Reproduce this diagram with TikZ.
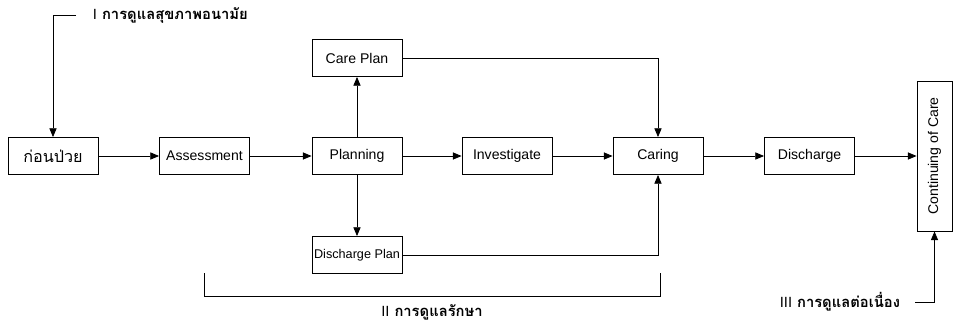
\documentclass[tikz,border=0pt]{standalone}
\usepackage{fontspec}
\setmainfont{Liberation Sans}
\newfontfamily\thaifont[Script=Thai]{Loma}
\newfontfamily\latinfont{Liberation Sans}
\usetikzlibrary{arrows.meta}

\begin{document}
\begin{tikzpicture}[x=0.025cm, y=-0.025cm, font=\fontsize{10}{12}\selectfont,
	box/.style={draw, line width=0.6pt, minimum width=2.25cm, minimum height=0.925cm, inner sep=1pt},
	arr/.style={line width=0.6pt, -{Triangle[length=2.2mm, width=1.8mm]}},
	thai/.style={font=\thaifont\bfseries\fontsize{10.5}{13}\selectfont}]
		\useasboundingbox (0,0) rectangle (953,322);

		% Boxes
		\node[box, font=\thaifont\fontsize{11.5}{13}\selectfont] (before) at (53,156) {ก่อนป่วย};
		\node[box] (assess) at (204.5,156) {Assessment};
		\node[box] (plan) at (357,156) {Planning};
		\node[box] (careplan) at (357,58) {Care Plan};
		\node[box, font=\fontsize{9}{10}\selectfont] (dplan) at (357,255) {Discharge Plan};
		\node[box] (invest) at (507,156) {Investigate};
		\node[box] (caring) at (658,156) {Caring};
		\node[box] (disch) at (809.5,156) {Discharge};
		\node[box, minimum width=3.75cm, minimum height=0.875cm, rotate=90] (cont) at (934.5,156) {Continuing of Care};

		% Main flow
		\draw[arr] (before) -- (assess);
		\draw[arr] (assess) -- (plan);
		\draw[arr] (plan) -- (invest);
		\draw[arr] (invest) -- (caring);
		\draw[arr] (caring) -- (disch);
		\draw[arr] (disch.east) -- (cont.north);

		% Plans
		\draw[arr] (plan) -- (careplan);
		\draw[arr] (plan) -- (dplan);
		\draw[arr] (careplan.east) -| (caring.north);
		\draw[arr] (dplan.east) -| (caring.south);

		% Phase labels
		\node[thai, anchor=west] (phaseone) at (88,15) {{\latinfont\mdseries I} การดูแลสุขภาพอนามัย};
		\coordinate (onetip) at (76,15);
		\draw[arr] (onetip) -| (before.north);

		\draw[line width=0.6pt] (204,273) |- (660,296) -- (660,273);
		\node[thai] (phasetwo) at (432,312) {{\latinfont\mdseries II} การดูแลรักษา};

		\node[thai, anchor=east] (phasethree) at (905,302) {{\latinfont\mdseries III} การดูแลต่อเนื่อง};
		\coordinate (threetip) at (915,302);
		\draw[arr] (threetip) -| (cont.west);
	\end{tikzpicture}
\end{document}
